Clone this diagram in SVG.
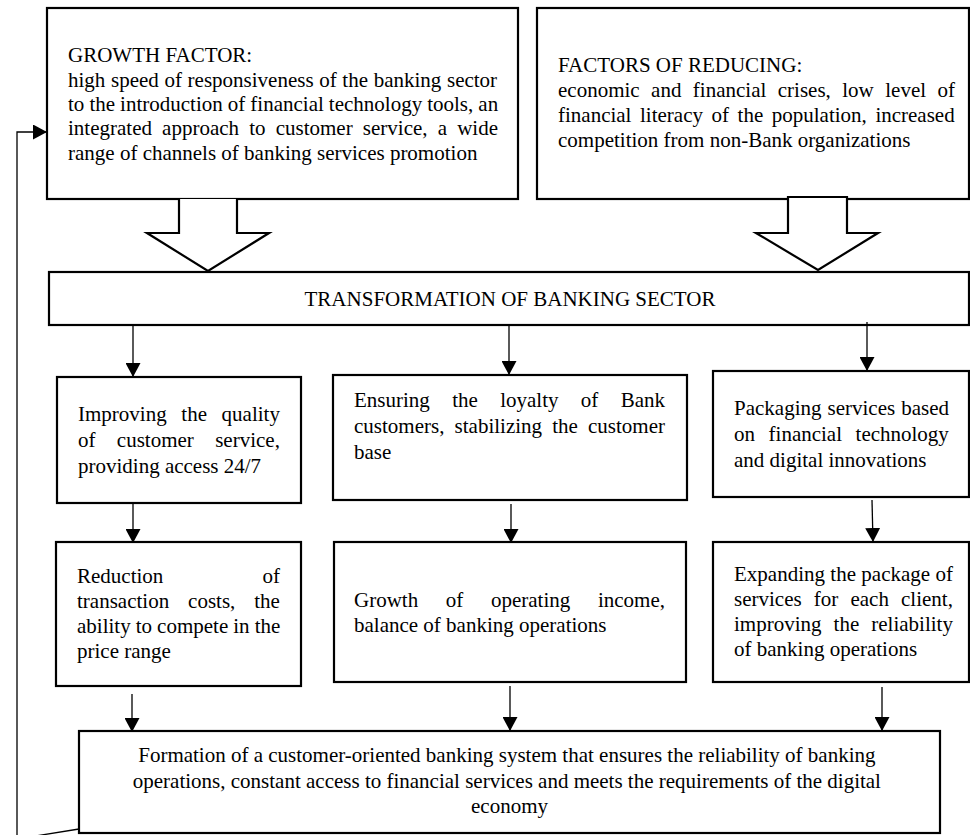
<svg xmlns="http://www.w3.org/2000/svg" width="970" height="835" viewBox="0 0 970 835">
<style>
.box{fill:#fff;stroke:#000;stroke-width:2.2}
.hollow{fill:#fff;stroke:#000;stroke-width:2.2;stroke-linejoin:miter}
.t{font-family:"Liberation Serif","Times New Roman",serif;font-size:21px;fill:#000}
.c{text-anchor:middle}
.ln{fill:none;stroke:#000;stroke-width:1.3}
</style>
<defs>
<marker id="ah" markerUnits="userSpaceOnUse" markerWidth="15" markerHeight="15" refX="14" refY="7.5" orient="auto">
<path d="M0,0 L14,7.5 L0,15 z" fill="#000"/>
</marker>
</defs>
<rect width="970" height="835" fill="#fff"/>

<g id="growth-factor">
<rect class="box" x="47" y="8" width="471" height="191"/>
<text class="t">
<tspan x="68" y="62">GROWTH FACTOR:</tspan>
<tspan x="68" y="87" word-spacing="0.4">high speed of responsiveness of the banking sector</tspan>
<tspan x="68" y="111" word-spacing="-0.2">to the introduction of financial technology tools, an</tspan>
<tspan x="68" y="135" word-spacing="4.9">integrated approach to customer service, a wide</tspan>
<tspan x="68" y="159.5">range of channels of banking services promotion</tspan>
</text>
</g>

<g id="factors-reducing">
<rect class="box" x="537" y="8" width="432" height="191"/>
<text class="t">
<tspan x="558" y="72">FACTORS OF REDUCING:</tspan>
<tspan x="558" y="97" word-spacing="6.2">economic and financial crises, low level of</tspan>
<tspan x="558" y="122" word-spacing="3.3">financial literacy of the population, increased</tspan>
<tspan x="558" y="147">competition from non-Bank organizations</tspan>
</text>
</g>

<g id="hollow-arrows">
<path class="hollow" d="M179,199 V233 H147 L208,271 L269,233 H237 V199"/>
<path class="hollow" d="M788,197 H847 V233 H878 L818,270 L756,233 H788 Z"/>
</g>

<g id="transformation">
<rect class="box" x="49" y="272" width="920" height="53"/>
<text class="t c" x="510" y="306">TRANSFORMATION OF BANKING SECTOR</text>
</g>

<g id="improving">
<rect class="box" x="57" y="377" width="244" height="126"/>
<text class="t">
<tspan x="78" y="421" word-spacing="9.4">Improving the quality</tspan>
<tspan x="78" y="447" word-spacing="16.1">of customer service,</tspan>
<tspan x="78" y="473">providing access 24/7</tspan>
</text>
</g>

<g id="ensuring">
<rect class="box" x="333" y="375" width="354" height="125"/>
<text class="t">
<tspan x="354" y="407" word-spacing="17.1">Ensuring the loyalty of Bank</tspan>
<tspan x="354" y="433" word-spacing="4.9">customers, stabilizing the customer</tspan>
<tspan x="354" y="459">base</tspan>
</text>
</g>

<g id="packaging">
<rect class="box" x="713" y="371" width="256" height="126"/>
<text class="t">
<tspan x="734" y="415" word-spacing="0.8">Packaging services based</tspan>
<tspan x="734" y="441" word-spacing="8.3">on financial technology</tspan>
<tspan x="734" y="467">and digital innovations</tspan>
</text>
</g>

<g id="reduction">
<rect class="box" x="56" y="542" width="245" height="144"/>
<text class="t">
<tspan x="77" y="583" word-spacing="94">Reduction of</tspan>
<tspan x="77" y="608" word-spacing="13.7">transaction costs, the</tspan>
<tspan x="77" y="633" word-spacing="-0.2">ability to compete in the</tspan>
<tspan x="77" y="658">price range</tspan>
</text>
</g>

<g id="growth-income">
<rect class="box" x="334" y="542" width="352" height="140"/>
<text class="t">
<tspan x="354" y="607" word-spacing="22.4">Growth of operating income,</tspan>
<tspan x="354" y="632">balance of banking operations</tspan>
</text>
</g>

<g id="expanding">
<rect class="box" x="713" y="542" width="256" height="140"/>
<text class="t">
<tspan x="734" y="581" word-spacing="0.1">Expanding the package of</tspan>
<tspan x="734" y="606" word-spacing="6.9">services for each client,</tspan>
<tspan x="734" y="631" word-spacing="6.8">improving the reliability</tspan>
<tspan x="734" y="656">of banking operations</tspan>
</text>
</g>

<g id="formation">
<rect class="box" x="79" y="731" width="861" height="102"/>
<text class="t c">
<tspan x="509.5" y="762">Formation of a customer-oriented banking system that ensures the reliability of banking</tspan>
<tspan x="509.5" y="788">operations, constant access to financial services and meets the requirements of the digital</tspan>
<tspan x="509.5" y="813">economy</tspan>
</text>
</g>

<g id="connectors">
<line class="ln" x1="133" y1="326" x2="133" y2="377" marker-end="url(#ah)"/>
<line class="ln" x1="509" y1="326" x2="509" y2="375" marker-end="url(#ah)"/>
<line class="ln" x1="867" y1="322" x2="867" y2="371" marker-end="url(#ah)"/>
<line class="ln" x1="133" y1="503" x2="133" y2="543" marker-end="url(#ah)"/>
<line class="ln" x1="511" y1="504" x2="511" y2="543" marker-end="url(#ah)"/>
<line class="ln" x1="872" y1="500" x2="873" y2="542" marker-end="url(#ah)"/>
<line class="ln" x1="132" y1="694" x2="132" y2="732" marker-end="url(#ah)"/>
<line class="ln" x1="510" y1="686" x2="510" y2="731" marker-end="url(#ah)"/>
<line class="ln" x1="882" y1="687" x2="882" y2="731" marker-end="url(#ah)"/>
<polyline class="ln" points="79,829 17,839 17,132 47,132" marker-end="url(#ah)"/>
</g>
</svg>
